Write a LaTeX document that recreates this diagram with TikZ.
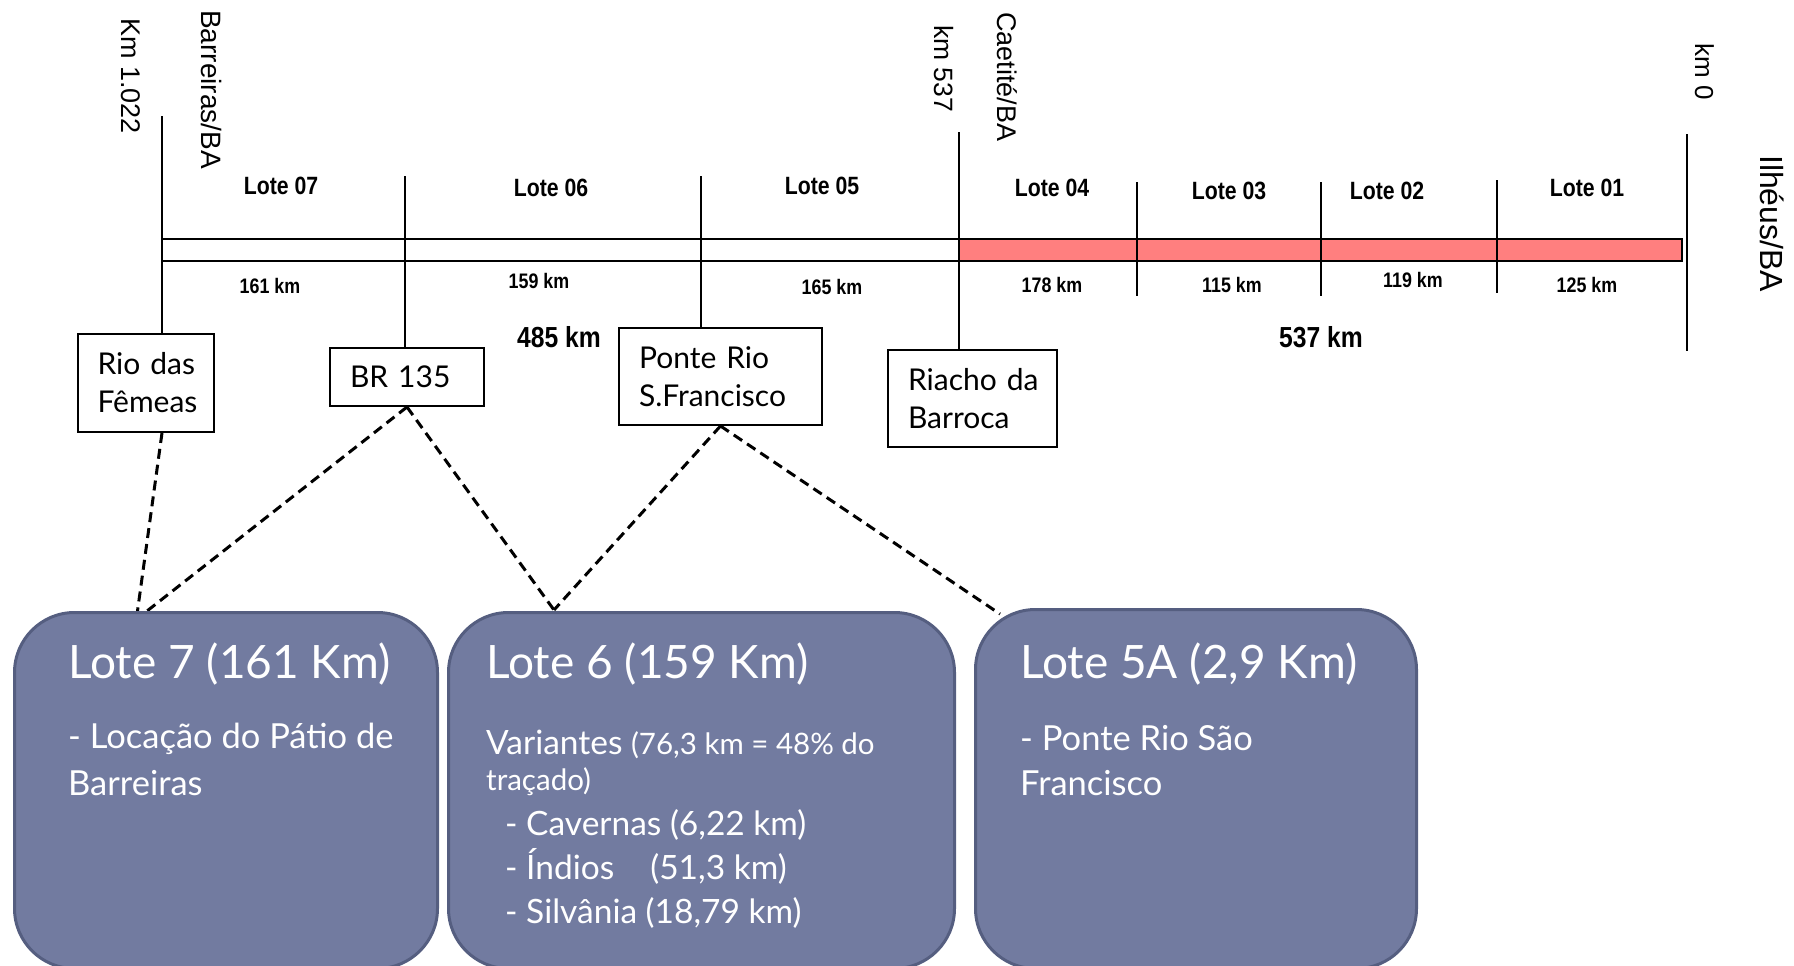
\documentclass[tikz,border=0pt]{standalone}
\usepackage{fontspec}
\setmainfont{Lato}
\newfontfamily\arial{Liberation Sans}
\newfontfamily\narrowb{Liberation Sans}[FakeStretch=0.85]
\definecolor{barpink}{RGB}{255,127,127}
\definecolor{boxfill}{RGB}{114,123,160}
\definecolor{boxline}{RGB}{85,94,128}
\begin{document}
\begin{tikzpicture}[x=1pt,y=-1pt,
  lotlab/.style={font=\narrowb\bfseries\fontsize{25}{30}\selectfont, anchor=base, inner sep=0pt},
  kmlab/.style={font=\narrowb\bfseries\fontsize{21}{25}\selectfont, anchor=base, inner sep=0pt},
  totlab/.style={font=\narrowb\bfseries\fontsize{29}{34}\selectfont, anchor=base, inner sep=0pt},
  vlab/.style={font=\arial\fontsize{27}{32}\selectfont, rotate=-90, anchor=base west, inner sep=0pt},
  smallbox/.style={draw, line width=2pt, align=left, inner xsep=20pt, inner ysep=0pt, anchor=north west, font=\fontsize{30}{38}\selectfont},
  bigbox/.style={draw=boxline, fill=boxfill, line width=3pt, rounded corners=60pt, anchor=north west, inner sep=0pt},
  tickline/.style={line width=2.5pt},
  conn/.style={line width=3pt, dash pattern=on 10pt off 6pt},
  boxtitle/.style={text=white, font=\fontsize{46}{52}\selectfont, anchor=base west, inner sep=0pt},
  boxbody/.style={text=white, font=\fontsize{34.5}{40}\selectfont, anchor=base west, inner sep=0pt},
  boxbullet/.style={text=white, font=\fontsize{33.5}{40}\selectfont, anchor=base west, inner sep=0pt},
  boxsmall/.style={text=white, font=\fontsize{29.5}{34}\selectfont, anchor=base west, inner sep=0pt}
]
\useasboundingbox (0,0) rectangle (1794,966);

% rotated place labels
\node[vlab] (km1022) at (121,18) {Km 1.022};
\node[vlab, font=\arial\fontsize{28}{32}\selectfont] (barreiras) at (201,10) {Barreiras/BA};
\node[vlab, font=\arial\fontsize{26.5}{32}\selectfont] (km537) at (934,25) {km 537};
\node[vlab] (caetite) at (997,12) {Caetité/BA};
\node[vlab, font=\arial\fontsize{26}{32}\selectfont] (km0) at (1695,43) {km 0};
\node[vlab, font=\arial\fontsize{32}{38}\selectfont] (ilheus) at (1760,155) {Ilhéus/BA};

% the bar
\draw[line width=2pt, fill=white] (162,239) rectangle (959,261);
\draw[line width=2pt, fill=barpink] (959,239) rectangle (1682,261);

% small boxes
\node[smallbox, text width=96.5pt, minimum height=98pt] (rio) at (76.5,333) {\mbox{Rio das}\\\mbox{Fêmeas}};
\node[smallbox, text width=114pt, minimum height=58pt] (br) at (329,347) {\mbox{BR 135}};
\node[smallbox, text width=163pt, minimum height=97pt] (ponte) at (618,327) {\mbox{Ponte Rio}\\\mbox{S.Francisco}};
\node[smallbox, text width=129pt, minimum height=97pt] (riacho) at (887,349) {\mbox{Riacho da}\\\mbox{Barroca}};

% vertical markers
\coordinate (t7) at (162,116);
\coordinate (t6) at (405,176);
\coordinate (t5) at (701,176);
\coordinate (t4) at (959,132);
\draw[tickline] (t7) -- (t7 |- rio.north);
\draw[tickline] (t6) -- (t6 |- br.north);
\draw[tickline] (t5) -- (t5 |- ponte.north);
\draw[tickline] (t4) -- (t4 |- riacho.north);
\coordinate (d3a) at (1137,182); \coordinate (d3b) at (1137,296);
\coordinate (d2a) at (1321,182); \coordinate (d2b) at (1321,296);
\coordinate (d1a) at (1497,180); \coordinate (d1b) at (1497,293);
\coordinate (d0a) at (1687,134); \coordinate (d0b) at (1687,351);
\draw[tickline] (d3a) -- (d3b);
\draw[tickline] (d2a) -- (d2b);
\draw[tickline] (d1a) -- (d1b);
\draw[tickline] (d0a) -- (d0b);

% lot labels
\node[lotlab] (l07) at (281,194) {Lote 07};
\node[lotlab] (l06) at (551,196) {Lote 06};
\node[lotlab] (l05) at (822,194) {Lote 05};
\node[lotlab] (l04) at (1052,196) {Lote 04};
\node[lotlab] (l03) at (1229,199) {Lote 03};
\node[lotlab] (l02) at (1387,199) {Lote 02};
\node[lotlab] (l01) at (1587,196) {Lote 01};
\node[kmlab] (k07) at (270,293) {161 km};
\node[kmlab] (k06) at (539,288) {159 km};
\node[kmlab] (k05) at (832,294) {165 km};
\node[kmlab] (k04) at (1052,292) {178 km};
\node[kmlab] (k03) at (1232,292) {115 km};
\node[kmlab] (k02) at (1413,287) {119 km};
\node[kmlab] (k01) at (1587,292) {125 km};
\node[totlab] (tot1) at (559,347) {485 km};
\node[totlab] (tot2) at (1321,347) {537 km};

% dashed connectors
\coordinate (e7a) at (137.5,611);
\coordinate (e7b) at (147,611);
\coordinate (e6) at (554,610);
\coordinate (e5) at (1000,614);
\draw[conn] (t7 |- rio.south) -- (e7a);
\draw[conn] (br.south) -- (e7b);
\draw[conn] (br.south) -- (e6);
\draw[conn] (ponte.south) -- (e6);
\draw[conn] (ponte.south) -- (e5);

% big boxes
\node[bigbox, minimum width=423pt, minimum height=356pt] (b7) at (13,611) {};
\node[bigbox, minimum width=506pt, minimum height=356pt] (b6) at (447,611) {};
\node[bigbox, minimum width=441pt, minimum height=359pt] (b5) at (974,608) {};

\node[boxtitle] (b7t) at (68,678) {Lote 7 (161 Km)};
\node[boxbody] (b7a) at (68,748) {- Locação do Pátio de};
\node[boxbody] (b7b) at (68,795) {Barreiras};

\node[boxtitle] (b6t) at (486,678) {Lote 6 (159 Km)};
\node[boxbullet] (b6a) at (486,754) {Variantes {\fontsize{29.5}{34}\selectfont (76,3 km = 48\% do}};
\node[boxsmall] (b6b) at (486,790) {traçado)};
\node[boxbullet] (b6c) at (505,835) {- Cavernas (6,22 km)};
\node[boxbullet] (b6d) at (505,879) {- Índios\hspace{36pt}(51,3 km)};
\node[boxbullet] (b6e) at (505,923) {- Silvânia (18,79 km)};

\node[boxtitle] (b5t) at (1020,678) {Lote 5A (2,9 Km)};
\node[boxbody] (b5a) at (1020,750) {- Ponte Rio São};
\node[boxbody] (b5b) at (1020,795) {Francisco};
\end{tikzpicture}
\end{document}
